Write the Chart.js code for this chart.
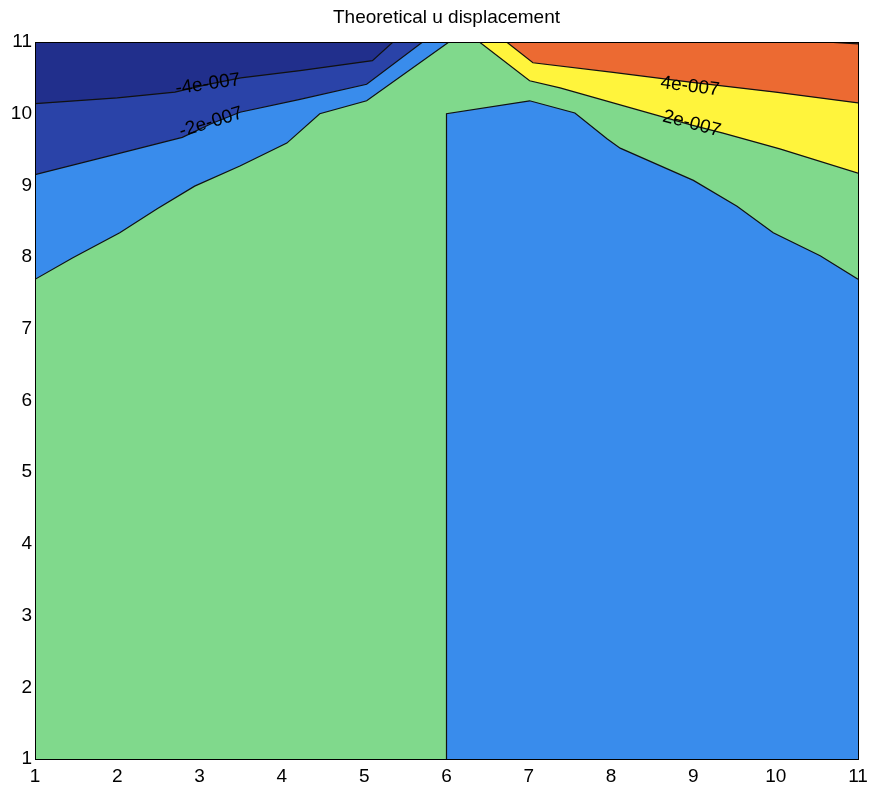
<!DOCTYPE html>
<html>
<head>
<meta charset="utf-8">
<title>Theoretical u displacement</title>
<script src="https://cdn.jsdelivr.net/npm/chart.js@4.4.1/dist/chart.umd.min.js"></script>
<style>
  html, body { margin: 0; padding: 0; background: #ffffff; }
  #wrap { width: 870px; height: 793px; }
</style>
</head>
<body>
<div id="wrap"><canvas id="chart" width="870" height="793"></canvas></div>
<script>
// Axis ticks
const xTicks = [1, 2, 3, 4, 5, 6, 7, 8, 9, 10, 11];
const yTicks = [1, 2, 3, 4, 5, 6, 7, 8, 9, 10, 11];

// Contour lines of the u displacement field (x, y pairs)
// left half: levels 0, -2e-007, -4e-007
const zeroLeftX  = [1, 1.46, 2.03, 2.48, 2.94, 3.49, 4.06, 4.46, 5.03, 6.03];
const zeroLeftY  = [7.69, 7.99, 8.34, 8.67, 8.99, 9.27, 9.59, 10.0, 10.18, 11];
const neg2X      = [1, 2, 2.79, 3.14, 3.49, 4.22, 5.03, 5.71];
const neg2Y      = [9.15, 9.44, 9.67, 9.86, 10.02, 10.2, 10.41, 11];
const neg4X      = [1, 2, 2.7, 3.1, 3.5, 4.22, 5.1, 5.35];
const neg4Y      = [10.14, 10.22, 10.3, 10.41, 10.5, 10.6, 10.74, 11];
// right half: level 0 (with the jump at x = 6), 2e-007, 4e-007, 6e-007
const zeroRightX = [6, 6, 7.01, 7.56, 7.95, 8.11, 9.0, 9.53, 9.97, 10.54, 11];
const zeroRightY = [1, 10.0, 10.18, 10.01, 9.65, 9.52, 9.07, 8.71, 8.34, 8.02, 7.69];
const pos2X      = [6.4, 7.01, 7.38, 8.98, 9.36, 10.05, 11];
const pos2Y      = [11, 10.46, 10.36, 9.84, 9.73, 9.51, 9.17];
const pos4X      = [6.73, 7.05, 8.0, 8.96, 10.0, 11];
const pos4Y      = [11, 10.71, 10.58, 10.44, 10.3, 10.15];
const pos6X      = [10.6, 11];
const pos6Y      = [11, 10.975];

// Contour labels
const labelText = ['-4e-007', '-2e-007', '4e-007', '2e-007'];
const labelX    = [3.1, 3.14, 8.96, 8.98];
const labelY    = [10.41, 9.88, 10.38, 9.86];

function pts(xs, ys) {
  return xs.map((x, i) => ({ x: x, y: ys[i] }));
}

const lineColor = '#111111';

// Bands, listed bottom layer first
const layers = [
  { data: pts([1, 11], [11, 11]), fill: 'start', color: '#80d98c', line: 0 },   // 0 .. 2e-007
  { data: pts(zeroLeftX, zeroLeftY), fill: 'end', color: '#398cec', line: 1.2 }, // -2e-007 .. 0
  { data: pts(neg2X, neg2Y), fill: 'end', color: '#2a43a8', line: 1.2 },         // -4e-007 .. -2e-007
  { data: pts(neg4X, neg4Y), fill: 'end', color: '#212f8c', line: 1.2 },         // below -4e-007
  { data: pts(zeroRightX, zeroRightY), fill: 'start', color: '#398cec', line: 1.2 },
  { data: pts(pos2X, pos2Y), fill: 'end', color: '#fff43c', line: 1.2 },         // 2e-007 .. 4e-007
  { data: pts(pos4X, pos4Y), fill: 'end', color: '#ec6a32', line: 1.2 },         // 4e-007 .. 6e-007
  { data: pts(pos6X, pos6Y), fill: 'end', color: '#a8301f', line: 1.2 }          // above 6e-007
];

const datasets = layers.map((l, i) => ({
  data: l.data,
  fill: l.fill,
  backgroundColor: l.color,
  borderColor: lineColor,
  borderWidth: l.line,
  pointRadius: 0,
  pointHoverRadius: 0,
  tension: 0,
  order: layers.length - i
}));

// Rotated contour labels placed along their lines
const contourLabels = {
  id: 'contourLabels',
  afterDatasetsDraw(chart) {
    const ctx = chart.ctx;
    const xs = chart.scales.x, ys = chart.scales.y;
    const angles = [-8, -17, 7, 15];
    ctx.save();
    ctx.font = '19px "Liberation Sans", Arial, sans-serif';
    ctx.fillStyle = '#000000';
    ctx.textAlign = 'center';
    ctx.textBaseline = 'middle';
    labelText.forEach((t, i) => {
      const px = xs.getPixelForValue(labelX[i]);
      const py = ys.getPixelForValue(labelY[i]);
      ctx.save();
      ctx.translate(px, py);
      ctx.rotate(angles[i] * Math.PI / 180);
      ctx.fillText(t, 0, 0);
      ctx.restore();
    });
    ctx.restore();
  }
};

const tickFont = { family: '"Liberation Sans", Arial, sans-serif', size: 19 };
const frame = { display: true, color: '#000000', width: 1, z: 1 };

new Chart(document.getElementById('chart'), {
  type: 'line',
  data: { datasets: datasets },
  options: {
    responsive: false,
    animation: false,
    devicePixelRatio: 1,
    layout: { padding: { left: 0, right: 12, top: 0, bottom: 0 } },
    scales: {
      x: {
        type: 'linear', position: 'bottom', min: 1, max: 11,
        afterBuildTicks: s => { s.ticks = xTicks.map(v => ({ value: v })); },
        ticks: { font: tickFont, color: '#000000', padding: 6, maxRotation: 0, autoSkip: false,
                 callback: v => String(v) },
        grid: { display: false, drawTicks: false },
        border: frame,
        afterFit: s => { s.height = 34; s.paddingLeft = 0; s.paddingRight = 0; }
      },
      y: {
        type: 'linear', position: 'left', min: 1, max: 11,
        afterBuildTicks: s => { s.ticks = yTicks.map(v => ({ value: v })); },
        ticks: { font: tickFont, color: '#000000', padding: 3, autoSkip: false,
                 callback: v => String(v) },
        grid: { display: false, drawTicks: false },
        border: frame,
        afterFit: s => { s.width = 35; s.paddingTop = 0; s.paddingBottom = 0; }
      },
      xTop: {
        type: 'linear', position: 'top', min: 1, max: 11,
        ticks: { display: false },
        grid: { display: false, drawTicks: false },
        border: frame,
        afterFit: s => { s.height = 0; s.paddingLeft = 0; s.paddingRight = 0; }
      },
      yRight: {
        type: 'linear', position: 'right', min: 1, max: 11,
        ticks: { display: false },
        grid: { display: false, drawTicks: false },
        border: frame,
        afterFit: s => { s.width = 0; s.paddingTop = 0; s.paddingBottom = 0; }
      }
    },
    plugins: {
      legend: { display: false },
      tooltip: { enabled: false },
      title: {
        display: true,
        text: 'Theoretical u displacement',
        fullSize: false,
        color: '#000000',
        font: { family: '"Liberation Sans", Arial, sans-serif', size: 19, weight: 'normal' },
        padding: { top: 6, bottom: 13.2 }
      }
    }
  },
  plugins: [contourLabels]
});
</script>
</body>
</html>
